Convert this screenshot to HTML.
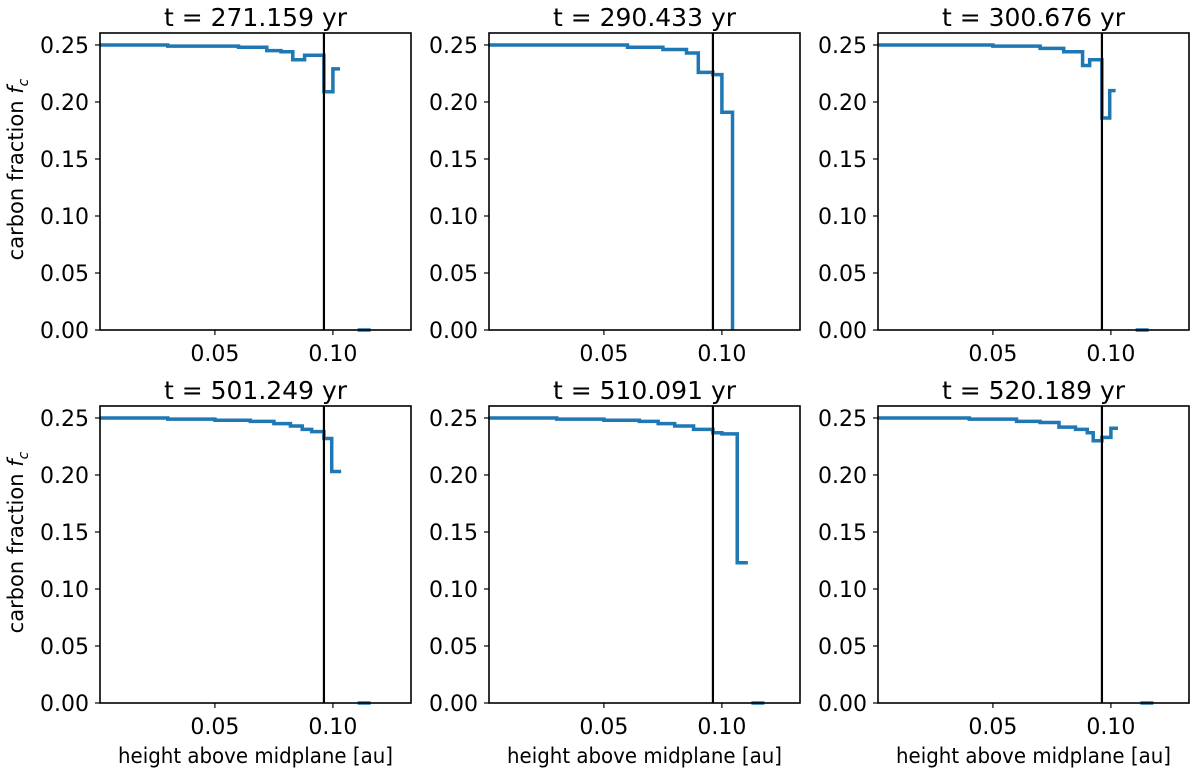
<!DOCTYPE html>
<html><head><meta charset="utf-8"><style>
body{margin:0;background:#fff;}
svg{display:block;font-family:"DejaVu Sans","Liberation Sans",sans-serif;}
</style></head><body>
<svg id="fig" width="1200" height="773" viewBox="0 0 1200 773" xmlns="http://www.w3.org/2000/svg"></svg>
<script>
const titles = ["t = 271.159 yr","t = 290.433 yr","t = 300.676 yr","t = 501.249 yr","t = 510.091 yr","t = 520.189 yr"];
const xTicks = [0.05, 0.10];
const xTickLabels = ["0.05","0.10"];
const yTicks = [0,0.05,0.10,0.15,0.20,0.25];
const yTickLabels = ["0.00","0.05","0.10","0.15","0.20","0.25"];
const vline = 0.0962;
const edges1 = [0.001,0.03,0.06,0.072,0.078,0.083,0.088,0.0962,0.1,0.103];
const vals1 = [0.250,0.249,0.248,0.245,0.244,0.237,0.241,0.209,0.229];
const edges2 = [0.001,0.06,0.075,0.085,0.09,0.0962,0.1,0.1045,0.1045];
const vals2 = [0.250,0.248,0.246,0.243,0.226,0.224,0.191,0.0];
const edges3 = [0.001,0.05,0.07,0.08,0.088,0.091,0.0962,0.0995,0.102];
const vals3 = [0.250,0.249,0.247,0.244,0.232,0.237,0.186,0.210];
const edges4 = [0.001,0.03,0.05,0.065,0.075,0.082,0.087,0.091,0.0962,0.0995,0.1035];
const vals4 = [0.250,0.249,0.248,0.247,0.245,0.243,0.240,0.238,0.232,0.203];
const edges5 = [0.001,0.03,0.05,0.065,0.073,0.08,0.088,0.0962,0.1,0.1065,0.111];
const vals5 = [0.250,0.249,0.248,0.247,0.245,0.243,0.240,0.237,0.236,0.123];
const edges6 = [0.001,0.04,0.06,0.07,0.078,0.085,0.09,0.0925,0.0962,0.1,0.103];
const vals6 = [0.250,0.249,0.247,0.246,0.242,0.240,0.237,0.230,0.233,0.241];
const zeroSegs = [[0.1105,0.116],null,[0.1105,0.116],[0.1105,0.116],[0.1125,0.118],[0.1125,0.118]];
const allEdges=[edges1,edges2,edges3,edges4,edges5,edges6];
const allVals=[vals1,vals2,vals3,vals4,vals5,vals6];

const NS="http://www.w3.org/2000/svg";
const svg=document.getElementById('fig');
function mk(tag,attrs,parent){const e=document.createElementNS(NS,tag);for(const k in attrs)e.setAttribute(k,attrs[k]);(parent||svg).appendChild(e);return e;}
const lefts=[100,489,878], tops=[33,406], W=311, H=297;
const xmin=0.0013, xmax=0.1331, ymin=0, ymax=0.2605;
for(let p=0;p<6;p++){
  const L=lefts[p%3], T=tops[Math.floor(p/3)];
  const g=mk('g',{});
  
  
  const X=v=>L+(v-xmin)/(xmax-xmin)*W;
  const Y=v=>T+H-(v-ymin)/(ymax-ymin)*H;
  const t=mk('text',{x:L+W/2,y:T-7,'text-anchor':'middle','font-size':25},g);
  t.textContent=titles[p];
  
  
  const e=allEdges[p], v=allVals[p];
  let d='M'+X(e[0])+','+Y(v[0]);
  for(let i=0;i<v.length;i++){d+=' L'+X(e[i+1])+','+Y(v[i]);if(i+1<v.length)d+=' L'+X(e[i+1])+','+Y(v[i+1]);}
  const path=mk('path',{d:d,fill:'none',stroke:'#1f77b4','stroke-width':3.5},g);
  
  
  if(zeroSegs[p]){
    const z=mk('line',{x1:X(zeroSegs[p][0]),x2:X(zeroSegs[p][1]),y1:Y(0),y2:Y(0),stroke:'#1f77b4','stroke-width':3.5},g);
    
    
  }
  const vl=mk('line',{x1:X(vline),x2:X(vline),y1:T,y2:T+H,stroke:'#000','stroke-width':2.2},g);
  
  
  const fr=mk('rect',{x:L,y:T,width:W,height:H,fill:'none',stroke:'#000','stroke-width':1.6},g);
  
  
  xTicks.forEach((xv,i)=>{
    mk('line',{x1:X(xv),x2:X(xv),y1:T+H,y2:T+H+5,stroke:'#000','stroke-width':1.2},g);
    const tl=mk('text',{x:X(xv),y:T+H+31,'text-anchor':'middle','font-size':22},g);
    tl.textContent=xTickLabels[i];
    
    
  });
  yTicks.forEach((yv,i)=>{
    mk('line',{x1:L-5,x2:L,y1:Y(yv),y2:Y(yv),stroke:'#000','stroke-width':1.2},g);
    const tl=mk('text',{x:L-11,y:Y(yv)+8,'text-anchor':'end','font-size':22},g);
    tl.textContent=yTickLabels[i];
    
    
  });
  if(p>=3){
    const xl=mk('text',{x:L+W/2,y:T+H+60,'text-anchor':'middle','font-size':21,textLength:275,lengthAdjust:'spacingAndGlyphs'},g);
    xl.textContent='height above midplane [au]';
    
    
  }
  if(p%3===0){
    const yl=mk('text',{x:0,y:0,'text-anchor':'middle','font-size':21,transform:'translate(23,'+(T+H/2-12)+') rotate(-90)'},g);
    yl.innerHTML='carbon fraction  <tspan font-style="italic">f</tspan><tspan font-style="italic" font-size="14" dy="5">c</tspan>';
    
    
  }
}
</script>
</body></html>
